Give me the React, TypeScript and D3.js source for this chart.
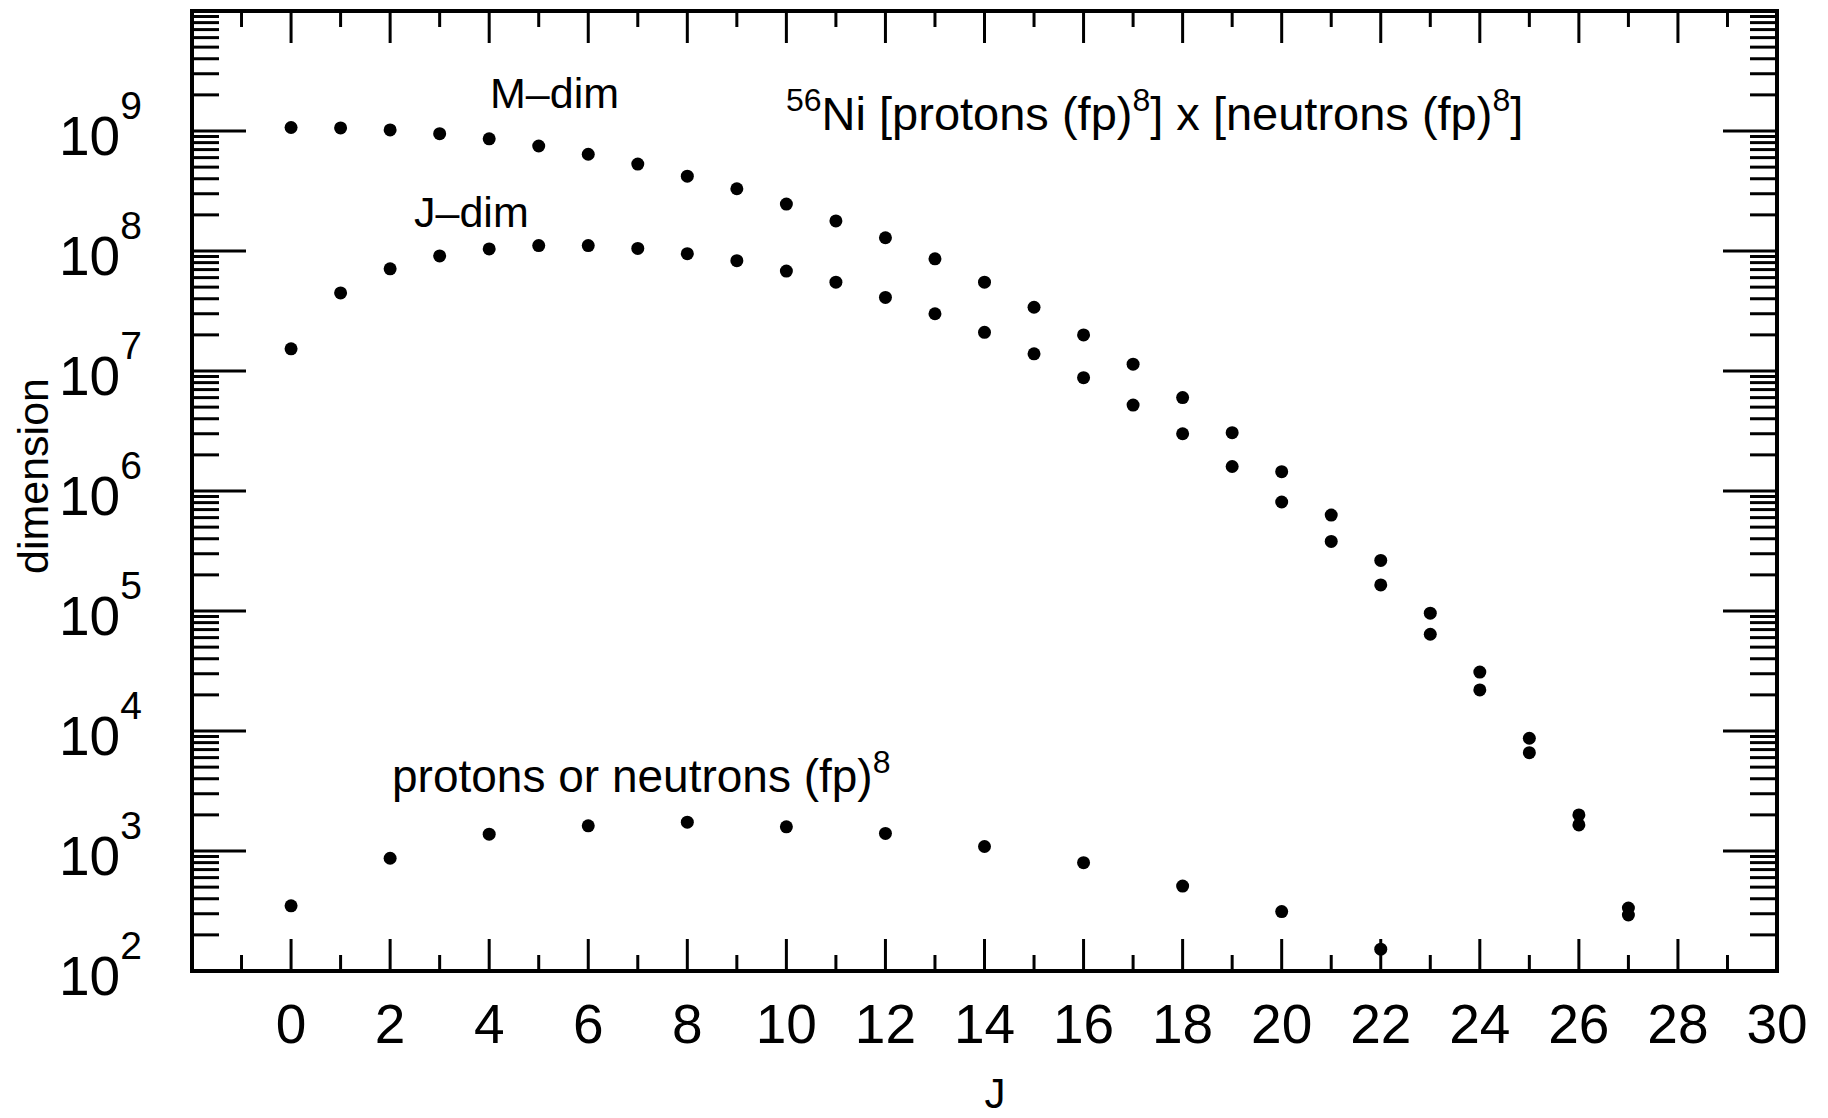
import React from "react";
import * as d3 from "d3";

const J_VALUES = d3.range(0, 28);
const M_DIM = [1.07e9, 1.06e9, 1.02e9, 9.5e8, 8.6e8, 7.5e8, 6.4e8, 5.3e8, 4.2e8, 3.3e8, 2.46e8, 1.78e8, 1.29e8, 8.6e7, 5.5e7, 3.4e7, 2.0e7, 1.14e7, 6.0e6, 3.06e6, 1.45e6, 6.3e5, 2.64e5, 9.6e4, 3.1e4, 8.7e3, 2.0e3, 335];
const J_DIM = [1.53e7, 4.47e7, 7.1e7, 9.1e7, 1.04e8, 1.11e8, 1.11e8, 1.05e8, 9.5e7, 8.3e7, 6.8e7, 5.5e7, 4.1e7, 3.0e7, 2.1e7, 1.39e7, 8.8e6, 5.2e6, 3.0e6, 1.6e6, 8.1e5, 3.8e5, 1.65e5, 6.4e4, 2.2e4, 6.6e3, 1.65e3, 293];
const P_J = [0, 2, 4, 6, 8, 10, 12, 14, 16, 18, 20, 22];
const P_DIM = [349, 870, 1380, 1620, 1740, 1590, 1400, 1090, 800, 510, 313, 152];

const X_LABELS = [0, 2, 4, 6, 8, 10, 12, 14, 16, 18, 20, 22, 24, 26, 28, 30];
const Y_EXPONENTS = [2, 3, 4, 5, 6, 7, 8, 9];

const W = 1828, H = 1118;
const L = 192, R = 1777, T = 11, B = 971;
const FONT = "'Liberation Sans', Arial, Helvetica, sans-serif";

export default function App() {
  const x = d3.scaleLinear().domain([-2, 30]).range([L, R]);
  const y = d3.scaleLog().domain([1e2, 1e10]).range([B, T]);

  const xTicks = d3.range(-1, 30);
  const yMajor = d3.range(2, 11).map((e) => Math.pow(10, e));
  const yMinor: number[] = [];
  for (let e = 2; e < 10; e++) for (let m = 2; m < 10; m++) yMinor.push(m * Math.pow(10, e));

  const tickW = 3;
  return (
    <svg width={W} height={H} style={{ position: "absolute", left: 0, top: 0, background: "#fff" }} fontFamily={FONT}>
      <rect x={0} y={0} width={W} height={H} fill="#fff" />
      {xTicks.map((t) => {
        const len = t % 2 === 0 ? 32 : 16;
        return (
          <g key={"xt" + t} stroke="#000" strokeWidth={tickW}>
            <line x1={x(t)} x2={x(t)} y1={B} y2={B - len} />
            <line x1={x(t)} x2={x(t)} y1={T} y2={T + len} />
          </g>
        );
      })}
      {yMajor.map((v) => (
        <g key={"ym" + v} stroke="#000" strokeWidth={tickW}>
          <line x1={L} x2={L + 54} y1={y(v)} y2={y(v)} />
          <line x1={R} x2={R - 54} y1={y(v)} y2={y(v)} />
        </g>
      ))}
      {yMinor.map((v) => (
        <g key={"yn" + v} stroke="#000" strokeWidth={tickW}>
          <line x1={L} x2={L + 27} y1={y(v)} y2={y(v)} />
          <line x1={R} x2={R - 27} y1={y(v)} y2={y(v)} />
        </g>
      ))}
      <rect x={L} y={T} width={R - L} height={B - T} fill="none" stroke="#000" strokeWidth={4} />
      {X_LABELS.map((t) => (
        <text key={"xl" + t} x={x(t)} y={1043} fontSize={55} textAnchor="middle" fill="#000">
          {t}
        </text>
      ))}
      {Y_EXPONENTS.map((e) => (
        <text key={"yl" + e} x={59} y={y(Math.pow(10, e)) + 24} fontSize={55} fill="#000">
          10
          <tspan dy={-36} fontSize={39}>
            {e}
          </tspan>
        </text>
      ))}
      <text x={995} y={1108} fontSize={42} textAnchor="middle" fill="#000">
        J
      </text>
      <text transform={`translate(48,476) rotate(-90)`} fontSize={43} textAnchor="middle" fill="#000">
        dimension
      </text>
      <text x={490} y={108} fontSize={43} fill="#000">M–dim</text>
      <text x={414} y={227} fontSize={43} fill="#000">J–dim</text>
      <text x={786} y={130} fontSize={47} fill="#000">
        <tspan fontSize={32} dy={-19}>56</tspan>
        <tspan dy={19}>Ni [protons (fp)</tspan>
        <tspan fontSize={32} dy={-19}>8</tspan>
        <tspan dy={19}>] x [neutrons (fp)</tspan>
        <tspan fontSize={32} dy={-19}>8</tspan>
        <tspan dy={19}>]</tspan>
      </text>
      <text x={392} y={792} fontSize={46} fill="#000">
        protons or neutrons (fp)
        <tspan fontSize={32} dy={-19}>8</tspan>
      </text>
      {J_VALUES.map((j, i) => (
        <circle key={"m" + j} cx={x(j)} cy={y(M_DIM[i])} r={6.5} fill="#000" />
      ))}
      {J_VALUES.map((j, i) => (
        <circle key={"j" + j} cx={x(j)} cy={y(J_DIM[i])} r={6.5} fill="#000" />
      ))}
      {P_J.map((j, i) => (
        <circle key={"p" + j} cx={x(j)} cy={y(P_DIM[i])} r={6.5} fill="#000" />
      ))}
    </svg>
  );
}
